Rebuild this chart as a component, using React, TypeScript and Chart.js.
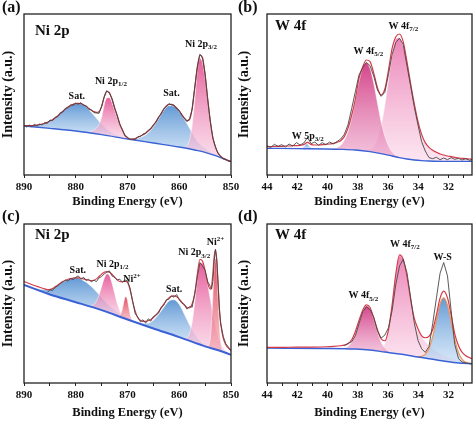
import React, { useEffect, useRef } from 'react';
import { Chart, registerables } from 'chart.js';

Chart.register(...registerables);

const FONT = '"Liberation Serif", "Times New Roman", serif';

type Pair = [number, number];

// ---------------- Panel (a) : Ni 2p ----------------
const aEnergy = [
  890, 889.5, 889, 888.5, 888, 887.5, 887, 886.5, 886, 885.5,
  885, 884.5, 884, 883.5, 883, 882.5, 882, 881.5, 881, 880.5,
  880, 879.5, 879, 878.5, 878, 877.5, 877, 876.5, 876, 875.5,
  875, 874.5, 874, 873.5, 873, 872.5, 872, 871.5, 871, 870.5,
  870, 869.5, 869, 868.5, 868, 867.5, 867, 866.5, 866, 865.5,
  865, 864.5, 864, 863.5, 863, 862.5, 862, 861.5, 861, 860.5,
  860, 859.5, 859, 858.5, 858, 857.5, 857, 856.5, 856, 855.5,
  855, 854.5, 854, 853.5, 853, 852.5, 852, 851.5, 851, 850.5,
  850,
];
const aRaw = [
  150, 144, 150, 145, 152, 147, 153, 150, 157, 155,
  165, 163, 173, 175, 187, 189, 200, 202, 211, 209,
  216, 212, 217, 209, 208, 197, 196, 187, 186, 185,
  207, 233, 253, 245, 230, 200, 180, 151, 137, 117,
  113, 106, 109, 106, 115, 115, 123, 124, 134, 138,
  151, 158, 174, 183, 199, 205, 214, 210, 210, 199,
  194, 179, 171, 160, 169, 198, 264, 323, 362, 350,
  302, 226, 162, 110, 85, 64, 57, 48, 47, 41,
  41,
];
const aFit = [
  147, 148, 148, 148, 149, 150, 151, 153, 155, 158,
  162, 166, 171, 177, 184, 191, 198, 204, 208, 212,
  214, 215, 214, 211, 206, 200, 194, 190, 188, 190,
  205, 235, 251, 247, 228, 203, 178, 154, 135, 120,
  112, 108, 107, 109, 113, 117, 121, 126, 132, 140,
  149, 160, 172, 185, 197, 207, 212, 212, 208, 201,
  192, 181, 170, 163, 167, 200, 262, 325, 360, 352,
  300, 228, 160, 112, 83, 66, 56, 50, 46, 43,
  40,
];
const aBackground: Pair[] = [
  [890, 147], [885, 140], [880, 132], [875, 121], [870, 108], [865, 96],
  [860, 84], [857, 75], [855, 68], [853, 58], [851, 46], [850, 41],
];
const aSat1: Pair[] = [
  [890, 148], [889, 148], [888, 149], [887, 151], [886, 155], [885, 162], [884, 171],
  [883, 184], [882, 198], [881, 208], [880, 214], [879, 213], [878, 205], [877, 188],
  [876, 170], [875, 152], [874, 138], [873, 127], [872, 119], [871, 113], [870, 109], [869, 106],
];
const aNi2p12: Pair[] = [
  [877.5, 130], [877, 131], [876.5, 135], [876, 141], [875.5, 151], [875, 173],
  [874.5, 210], [874, 231], [873.5, 232], [873, 217], [872.5, 195], [872, 172],
  [871.5, 150], [871, 133], [870.5, 118], [870, 111], [869.5, 107],
];
const aSat2: Pair[] = [
  [870, 108], [869, 107], [868, 110], [867, 116], [866, 126], [865, 145], [864, 168],
  [863, 193], [862, 208], [861, 206], [860, 190], [859, 167], [858, 140], [857, 112],
  [856, 92], [855, 80], [854, 70], [853, 61], [852, 54], [851, 47],
];
const aNi2p32: Pair[] = [
  [860, 84], [859.5, 83], [859, 82], [858.5, 87], [858, 105], [857.5, 150], [857, 225],
  [856.5, 313], [856, 350], [855.5, 335], [855, 288], [854.5, 224], [854, 153],
  [853.5, 109], [853, 80], [852.5, 64], [852, 55], [851.5, 50], [851, 46], [850.5, 43], [850, 41],
];

// ---------------- Panel (b) : W 4f ----------------
const bEnergy = [
  44, 43.76, 43.51, 43.27, 43.03, 42.78, 42.54, 42.3, 42.05, 41.81, 41.57, 41.32,
  41.08, 40.84, 40.59, 40.35, 40.11, 39.86, 39.62, 39.38, 39.13, 38.89, 38.65, 38.4,
  38.16, 37.92, 37.67, 37.43, 37.19, 36.94, 36.7, 36.46, 36.21, 35.97, 35.73, 35.48,
  35.24, 35, 34.75, 34.51, 34.27, 34.02, 33.78, 33.54, 33.29, 33.05, 32.8, 32.56,
  32.32, 32.07, 31.83, 31.59, 31.34, 31.1, 30.86, 30.61, 30.37,
];
const bRaw = [
  88, 83, 92, 86, 91, 84, 93, 87, 97, 90, 96, 112,
  94, 99, 89, 97, 91, 99, 93, 100, 108, 122, 150, 200,
  250, 300, 322, 338, 328, 296, 255, 236, 248, 302, 362, 398,
  410, 392, 328, 268, 205, 150, 100, 72, 52, 49, 53, 46,
  51, 46, 52, 47, 50, 45, 49, 44, 47,
];
const bFit = [
  85, 85, 86, 86, 86, 87, 87, 88, 88, 89, 91, 98,
  91, 90, 90, 91, 92, 93, 95, 98, 103, 115, 140, 180,
  228, 290, 325, 345, 340, 305, 262, 240, 258, 315, 380, 415,
  423, 400, 340, 275, 215, 160, 122, 97, 83, 74, 68, 63,
  60, 57, 55, 53, 51, 50, 49, 48, 47,
];
const bBackground: Pair[] = [
  [44, 80], [42.05, 79], [40.11, 78], [39.13, 77], [38.16, 75], [37.19, 70], [36.21, 62],
  [35.73, 57], [35.24, 52], [34.75, 48], [34.27, 45], [33.78, 43], [33.29, 42], [32.32, 41], [30.37, 41],
];
const bW5p32: Pair[] = [[41.76, 80], [41.57, 85], [41.37, 93], [41.18, 85], [40.98, 80]];
const bW4f72: Pair[] = [
  [37.92, 74], [37.67, 73], [37.43, 73], [37.19, 77], [36.94, 85], [36.7, 107], [36.46, 147],
  [36.21, 209], [35.97, 286], [35.73, 360], [35.48, 408], [35.24, 412], [35, 387], [34.75, 340],
  [34.51, 280], [34.27, 215], [34.02, 164], [33.78, 120], [33.54, 97], [33.29, 83], [33.05, 74],
  [32.8, 68], [32.32, 60], [31.83, 55], [31.34, 51], [30.86, 49], [30.37, 47],
];
const bW4f52: Pair[] = [
  [39.86, 78], [39.62, 79], [39.38, 82], [39.13, 89], [38.89, 104], [38.65, 130], [38.4, 172],
  [38.16, 225], [37.92, 280], [37.67, 323], [37.43, 337], [37.19, 320], [36.94, 274], [36.7, 216],
  [36.46, 160], [36.21, 116], [35.97, 87], [35.73, 69], [35.48, 59], [35.24, 54], [35, 50],
];

// ---------------- Panel (c) : Ni 2p ----------------
const cRawEnergy = [
  885.5, 885, 884.5, 884, 883.5, 883, 882.5, 882, 881.5, 881,
  880.5, 880, 879.5, 879, 878.5, 878, 877.5, 877, 876.5, 876,
  875.5, 875, 874.5, 874, 873.5, 873, 872.5, 872, 871.5, 871,
  870.5, 870, 869.5, 869, 868.5, 868, 867.5, 867, 866.5, 866,
  865.5, 865, 864.5, 864, 863.5, 863, 862.5, 862, 861.5, 861,
  860.5, 860, 859.5, 859, 858.5, 858, 857.5, 857, 856.5, 856,
  855.5, 855, 854.5, 854, 853.75, 853.5, 853.25, 853, 852.75, 852.5,
  852.25, 852, 851.5, 851, 850.5, 850,
];
const cRaw = [
  272, 280, 278, 287, 292, 299, 303, 309, 306, 314,
  311, 318, 322, 312, 318, 308, 312, 304, 309, 305,
  316, 320, 328, 333, 337, 322, 318, 310, 312, 303,
  310, 307, 285, 245, 208, 198, 184, 190, 180, 193,
  186, 200, 204, 210, 228, 233, 250, 252, 262, 258,
  266, 250, 240, 236, 222, 230, 228, 270, 318, 362,
  352, 338, 305, 290, 282, 305, 365, 402, 372, 298,
  222, 180, 140, 118, 108, 96,
];
const cFitEnergy = [
  890, 889, 888, 887, 886,
  885.5, 885, 884.5, 884, 883.5, 883, 882.5, 882, 881.5, 881,
  880.5, 880, 879.5, 879, 878.5, 878, 877.5, 877, 876.5, 876,
  875.5, 875, 874.5, 874, 873.5, 873, 872.5, 872, 871.5, 871,
  870.5, 870, 869.5, 869, 868.5, 868, 867.5, 867, 866.5, 866,
  865.5, 865, 864.5, 864, 863.5, 863, 862.5, 862, 861.5, 861,
  860.5, 860, 859.5, 859, 858.5, 858, 857.5, 857, 856.5, 856,
  855.5, 855, 854.5, 854, 853.75, 853.5, 853.25, 853, 852.75, 852.5,
  852.25, 852, 851.5, 851, 850.5, 850,
];
const cFit = [
  305, 299, 293, 288, 283,
  281, 281, 284, 289, 294, 300, 305, 309, 312, 314,
  315, 316, 316, 315, 313, 311, 309, 308, 309, 313,
  320, 327, 333, 335, 333, 327, 318, 310, 305, 304,
  306, 302, 280, 245, 215, 196, 188, 185, 185, 187,
  191, 197, 205, 214, 225, 237, 248, 256, 261, 262,
  259, 252, 243, 234, 227, 226, 238, 268, 328, 372,
  366, 338, 300, 282, 292, 330, 380, 400, 368, 300,
  225, 180, 135, 115, 105, 98,
];
const cBackground: Pair[] = [
  [890, 295], [885, 266], [880, 243], [875, 219], [870, 191], [865, 164],
  [860, 138], [855, 110], [852, 96], [850, 85],
];
const cSat1: Pair[] = [
  [888, 286], [887, 282], [886, 281], [885, 283], [884, 289], [883, 298], [882, 307],
  [881, 315], [880, 317], [879.5, 316], [879, 312], [878, 303], [877, 290], [876, 274],
  [875, 257], [874, 240], [873, 226], [872, 214], [871, 204], [870, 195], [869, 188], [868, 181],
];
const cNi2p12: Pair[] = [
  [877, 232], [876.5, 236], [876, 246], [875.5, 264], [875, 289], [874.5, 314], [874, 328],
  [873.5, 323], [873, 300], [872.5, 270], [872, 240], [871.5, 218], [871, 204], [870.5, 196], [870, 191],
];
const cNi2PlusA: Pair[] = [
  [871.5, 203], [871.25, 209], [871, 222], [870.75, 240], [870.5, 256], [870.25, 259],
  [870, 247], [869.75, 227], [869.5, 207], [869.25, 194], [869, 188],
];
const cSat2: Pair[] = [
  [868, 181], [867, 179], [866, 180], [865, 189], [864, 206], [863, 227], [862, 246],
  [861, 250], [860, 236], [859, 206], [858, 174], [857, 146], [856, 127], [855, 114], [854, 106],
];
const cNi2p32: Pair[] = [
  [858.5, 136], [858, 149], [857.5, 183], [857, 243], [856.5, 314], [856, 361], [855.5, 359],
  [855, 335], [854.5, 296], [854, 251], [853.5, 207], [853, 169], [852.5, 139], [852, 119],
  [851.5, 105], [851, 96], [850.5, 90], [850, 85],
];
const cNi2PlusB: Pair[] = [
  [854.5, 110], [854.25, 115], [854, 135], [853.75, 183], [853.5, 261], [853.25, 341],
  [853, 376], [852.75, 339], [852.5, 256], [852.25, 176], [852, 126], [851.75, 103], [851.5, 95],
];

// ---------------- Panel (d) : W 4f ----------------
const dRawEnergy = [
  38.89, 38.65, 38.4, 38.16, 37.92, 37.67, 37.43, 37.19, 36.94, 36.7, 36.46, 36.21,
  35.97, 35.73, 35.48, 35.24, 35, 34.75, 34.51, 34.27, 34.02, 33.78, 33.54, 33.29,
  33.05, 32.8, 32.56, 32.32, 32.07, 31.83, 31.59, 31.34, 31.1, 30.86, 30.61, 30.37,
];
const dRaw = [
  112, 119, 124, 142, 178, 214, 229, 221, 197, 157, 135, 144,
  166, 218, 298, 352, 372, 332, 258, 182, 128, 103, 92, 110,
  178, 256, 330, 362, 322, 218, 116, 73, 63, 60, 58, 57,
];
const dFitEnergy = [
  44, 43.03, 42.05, 41.08, 40.11, 39.62, 39.13,
  38.89, 38.65, 38.4, 38.16, 37.92, 37.67, 37.43, 37.19, 36.94, 36.7, 36.46, 36.21,
  35.97, 35.73, 35.48, 35.24, 35, 34.75, 34.51, 34.27, 34.02, 33.78, 33.54, 33.29,
  33.05, 32.8, 32.56, 32.32, 32.07, 31.83, 31.59, 31.34, 31.1, 30.86, 30.61, 30.37,
];
const dFit = [
  107, 107, 108, 108, 109, 110, 112,
  114, 118, 130, 155, 188, 219, 235, 227, 195, 160, 133, 127,
  160, 235, 330, 385, 372, 320, 252, 195, 163, 142, 136, 140,
  160, 205, 255, 276, 256, 205, 148, 112, 92, 82, 76, 72,
];
const dBackground: Pair[] = [
  [44, 105], [40.11, 104], [38.16, 102], [37.19, 99], [36.21, 93], [35.24, 87], [34.27, 80],
  [33.29, 73], [32.32, 66], [31.34, 60], [30.37, 58],
];
const dW4f52: Pair[] = [
  [38.89, 105], [38.65, 110], [38.4, 123], [38.16, 147], [37.92, 181], [37.67, 214], [37.43, 232],
  [37.19, 223], [36.94, 191], [36.7, 154], [36.46, 123], [36.21, 105], [35.97, 96], [35.73, 91],
];
const dW4f72: Pair[] = [
  [36.7, 97], [36.46, 101], [36.21, 119], [35.97, 164], [35.73, 242], [35.48, 332], [35.24, 383],
  [35, 368], [34.75, 316], [34.51, 250], [34.27, 189], [34.02, 156], [33.78, 138], [33.54, 125],
  [33.29, 113], [33.05, 103], [32.8, 95], [32.56, 89], [32.32, 83], [31.83, 75], [31.34, 68], [30.86, 65], [30.37, 63],
];
const dWS: Pair[] = [
  [34.02, 79], [33.78, 80], [33.54, 86], [33.29, 104], [33.05, 139], [32.8, 190], [32.56, 238],
  [32.32, 256], [32.07, 234], [31.83, 184], [31.59, 130], [31.34, 91], [31.1, 71], [30.86, 62],
  [30.61, 59], [30.37, 58],
];

// ---------------- styles ----------------
const BLUE = { top: 'rgba(82,142,208,0.9)', bottom: 'rgba(190,218,244,0.62)' };
const PINK = { top: 'rgba(228,78,146,0.9)', bottom: 'rgba(248,204,226,0.62)' };
const RED = { top: 'rgba(224,58,78,0.92)', bottom: 'rgba(242,160,172,0.62)' };
const MAGENTA = { top: 'rgba(206,44,122,0.88)', bottom: 'rgba(236,160,200,0.62)' };
const LIGHTPINK = { top: 'rgba(232,106,168,0.82)', bottom: 'rgba(250,212,231,0.62)' };

type Part = { t: string; k?: 'sub' | 'sup' };
type Ann = { e: number; v: number; parts: Part[]; align?: 'left' | 'center' };
type Comp = { data: Pair[]; top: string; bottom: string; border?: string; borderWidth?: number };

const sub = (t: string): Part => ({ t, k: 'sub' });
const sup = (t: string): Part => ({ t, k: 'sup' });

const panels = [
  {
    key: 'a', left: 0, top: 0, w: 246, h: 210, padL: 24, padR: 15, axisH: 35,
    xMin: 850, xMax: 890, step: 5, labelStep: 10, hide: [] as number[], yMax: 483,
    rawE: aEnergy, raw: aRaw, fitE: aEnergy, fit: aFit, bg: aBackground, fitColor: '#b3323d', bgWidth: 1.3,
    comps: [
      { data: aSat1, ...BLUE }, { data: aNi2p12, ...PINK }, { data: aSat2, ...BLUE }, { data: aNi2p32, ...PINK },
    ] as Comp[],
    letter: '(a)', letterX: 2, letterY: 8, title: 'Ni 2p', titleDx: 11, titleDy: 17, yTitleX: 8,
    anns: [
      { e: 879.8, v: 240, parts: [{ t: 'Sat.' }], align: 'center' },
      { e: 876.3, v: 285, parts: [{ t: 'Ni 2p' }, sub('1/2')] },
      { e: 861.5, v: 247, parts: [{ t: 'Sat.' }], align: 'center' },
      { e: 858.9, v: 395, parts: [{ t: 'Ni 2p' }, sub('3/2')] },
    ] as Ann[],
  },
  {
    key: 'b', left: 237, top: 0, w: 237, h: 210, padL: 30, padR: 2, axisH: 35,
    xMin: 30.45, xMax: 44, step: 1, labelStep: 2, hide: [] as number[], yMax: 483,
    rawE: bEnergy, raw: bRaw, fitE: bEnergy, fit: bFit, bg: bBackground, fitColor: '#d63a47', bgWidth: 1.3,
    comps: [
      { data: bW5p32, ...BLUE }, { data: bW4f72, ...LIGHTPINK }, { data: bW4f52, ...MAGENTA },
    ] as Comp[],
    letter: '(b)', letterX: 1, letterY: 8, title: 'W 4f', titleDx: 8, titleDy: 12, yTitleX: 7,
    anns: [
      { e: 42.37, v: 120, parts: [{ t: 'W 5p' }, sub('3/2')] },
      { e: 38.29, v: 375, parts: [{ t: 'W 4f' }, sub('5/2')] },
      { e: 35.97, v: 450, parts: [{ t: 'W 4f' }, sub('7/2')] },
    ] as Ann[],
  },
  {
    key: 'c', left: 0, top: 210, w: 246, h: 211, padL: 24, padR: 15, axisH: 38,
    xMin: 850, xMax: 890, step: 5, labelStep: 10, hide: [] as number[], yMax: 478,
    rawE: cRawEnergy, raw: cRaw, fitE: cFitEnergy, fit: cFit, bg: cBackground, fitColor: '#d63e4b', bgWidth: 2,
    comps: [
      { data: cSat1, ...BLUE }, { data: cNi2p12, ...PINK }, { data: cNi2PlusA, ...RED },
      { data: cSat2, ...BLUE }, { data: cNi2p32, ...PINK }, { data: cNi2PlusB, ...RED },
    ] as Comp[],
    letter: '(c)', letterX: 2, letterY: 7, title: 'Ni 2p', titleDx: 11, titleDy: 11.5, yTitleX: 8,
    anns: [
      { e: 879.6, v: 340, parts: [{ t: 'Sat.' }], align: 'center' },
      { e: 876, v: 360, parts: [{ t: 'Ni 2p' }, sub('1/2')] },
      { e: 870.8, v: 313, parts: [{ t: 'Ni' }, sup('2+')] },
      { e: 861, v: 285, parts: [{ t: 'Sat.' }], align: 'center' },
      { e: 860.2, v: 395, parts: [{ t: 'Ni 2p' }, sub('3/2')] },
      { e: 854.7, v: 425, parts: [{ t: 'Ni' }, sup('2+')] },
    ] as Ann[],
  },
  {
    key: 'd', left: 237, top: 210, w: 237, h: 211, padL: 30, padR: 2, axisH: 38,
    xMin: 30.45, xMax: 44, step: 1, labelStep: 2, hide: [] as number[], yMax: 478,
    rawE: dRawEnergy, raw: dRaw, fitE: dFitEnergy, fit: dFit, bg: dBackground, fitColor: '#d63a47', bgWidth: 1.5,
    comps: [
      { data: dW4f72, ...LIGHTPINK }, { data: dW4f52, ...MAGENTA },
      { data: dWS, ...BLUE, border: 'rgb(240,150,90)', borderWidth: 1.2 },
    ] as Comp[],
    letter: '(d)', letterX: 1, letterY: 7, title: 'W 4f', titleDx: 8, titleDy: 11, yTitleX: 7,
    anns: [
      { e: 38.62, v: 265, parts: [{ t: 'W 4f' }, sub('5/2')] },
      { e: 35.87, v: 420, parts: [{ t: 'W 4f' }, sub('7/2')] },
      { e: 32.39, v: 380, parts: [{ t: 'W-S' }], align: 'center' },
    ] as Ann[],
  },
];

function drawRich(ctx: CanvasRenderingContext2D, x: number, y: number, parts: Part[], align?: string) {
  const main = 10;
  const small = 7;
  const fontOf = (k?: string) => `bold ${k ? small : main}px ${FONT}`;
  let w = 0;
  for (const p of parts) {
    ctx.font = fontOf(p.k);
    w += ctx.measureText(p.t).width;
  }
  let cx = align === 'center' ? x - w / 2 : x;
  const base = y + main * 0.35;
  ctx.textAlign = 'left';
  ctx.textBaseline = 'alphabetic';
  for (const p of parts) {
    ctx.font = fontOf(p.k);
    const dy = p.k === 'sub' ? 2.5 : p.k === 'sup' ? -4 : 0;
    ctx.fillText(p.t, cx, base + dy);
    cx += ctx.measureText(p.t).width;
  }
}

const panelPlugin = {
  id: 'panelText',
  afterDraw(chart: any, _args: any, opts: any) {
    const { ctx, chartArea: a, scales } = chart;
    ctx.save();
    ctx.strokeStyle = '#222';
    ctx.lineWidth = 1.3;
    ctx.strokeRect(a.left, a.top, a.right - a.left, a.bottom - a.top);
    ctx.fillStyle = '#111';
    ctx.textAlign = 'left';
    ctx.textBaseline = 'middle';
    ctx.font = `bold 16px ${FONT}`;
    ctx.fillText(opts.letter, opts.letterX, opts.letterY);
    ctx.font = `bold 15px ${FONT}`;
    ctx.fillText(opts.title, a.left + opts.titleDx, a.top + opts.titleDy);
    ctx.save();
    ctx.translate(opts.yTitleX, (a.top + a.bottom) / 2);
    ctx.rotate(-Math.PI / 2);
    ctx.textAlign = 'center';
    ctx.textBaseline = 'middle';
    ctx.font = `bold 14px ${FONT}`;
    ctx.fillText('Intensity (a.u.)', 0, 0);
    ctx.restore();
    for (const an of opts.anns as Ann[]) {
      const px = scales.x.getPixelForValue(an.e);
      const py = scales.y.getPixelForValue(an.v);
      drawRich(ctx, px, py, an.parts, an.align);
    }
    ctx.restore();
  },
};

const gradient = (top: string, bottom: string) => (c: any) => {
  const chart = c.chart;
  const ys = chart.scales && chart.scales.y;
  if (!chart.chartArea || !ys || !c.dataset) return top;
  const vals = c.dataset.data.map((p: any) => p.y);
  const yTop = ys.getPixelForValue(Math.max(...vals));
  const yBot = ys.getPixelForValue(Math.min(...vals));
  const g = chart.ctx.createLinearGradient(0, yTop, 0, Math.max(yBot, yTop + 1));
  g.addColorStop(0, top);
  g.addColorStop(1, bottom);
  return g;
};

function Panel({ cfg }: { cfg: (typeof panels)[number] }) {
  const ref = useRef<HTMLCanvasElement>(null);
  useEffect(() => {
    const canvas = ref.current;
    if (!canvas) return;
    const pairs = (p: Pair[]) => p.map(([x, y]) => ({ x, y }));
    const datasets: any[] = [
      {
        data: cfg.rawE.map((x, i) => ({ x, y: cfg.raw[i] })),
        borderColor: '#474747', borderWidth: 0.9, tension: 0, fill: false, order: 0,
      },
      {
        data: cfg.fitE.map((x, i) => ({ x, y: cfg.fit[i] })),
        borderColor: cfg.fitColor, borderWidth: 1.2, cubicInterpolationMode: 'monotone', fill: false, order: 1,
      },
      {
        data: pairs(cfg.bg),
        borderColor: '#3a62d6', borderWidth: cfg.bgWidth, cubicInterpolationMode: 'monotone', fill: false, order: 2,
      },
      ...cfg.comps.map((c, i) => ({
        data: pairs(c.data),
        borderColor: c.border ?? 'rgba(255,245,250,0.75)',
        borderWidth: c.borderWidth ?? 0.7,
        backgroundColor: gradient(c.top, c.bottom),
        fill: 2,
        cubicInterpolationMode: 'monotone',
        order: 100 - i,
      })),
    ];
    const chart = new Chart(canvas, {
      type: 'line',
      data: { datasets },
      plugins: [panelPlugin as any],
      options: {
        responsive: false,
        animation: false,
        events: [],
        layout: { padding: { left: cfg.padL, top: 14, right: cfg.padR, bottom: 0 } },
        elements: { point: { radius: 0, hitRadius: 0 } },
        plugins: {
          legend: { display: false },
          tooltip: { enabled: false },
          panelText: {
            letter: cfg.letter, letterX: cfg.letterX, letterY: cfg.letterY,
            title: cfg.title, titleDx: cfg.titleDx, titleDy: cfg.titleDy,
            yTitleX: cfg.yTitleX, anns: cfg.anns,
          },
        } as any,
        scales: {
          x: {
            type: 'linear',
            reverse: true,
            min: cfg.xMin,
            max: cfg.xMax,
            afterFit: (s: any) => { s.height = cfg.axisH; },
            grid: { display: true, drawOnChartArea: false, drawTicks: true, tickLength: 3, color: '#222', tickColor: '#222', tickWidth: 1 },
            border: { display: false },
            ticks: {
              stepSize: cfg.step,
              autoSkip: false,
              includeBounds: false,
              maxRotation: 0,
              minRotation: 0,
              padding: 3,
              color: '#111',
              font: { family: FONT, size: 11, weight: 'bold' },
              callback: (value: any) => {
                const v = Number(value);
                const r = v / cfg.labelStep;
                if (Math.abs(r - Math.round(r)) > 1e-6) return '';
                if (cfg.hide.includes(v)) return '';
                return String(v);
              },
            },
            title: {
              display: true,
              text: 'Binding Energy (eV)',
              color: '#111',
              font: { family: FONT, size: 12.5, weight: 'bold' },
              padding: { top: 0, bottom: 1 },
            },
          } as any,
          y: { type: 'linear', display: false, min: 0, max: cfg.yMax },
        },
      },
    });
    return () => chart.destroy();
  }, []);
  return (
    <canvas
      ref={ref}
      width={cfg.w}
      height={cfg.h}
      style={{ position: 'absolute', left: cfg.left, top: cfg.top, width: cfg.w, height: cfg.h }}
    />
  );
}

export default function App() {
  return (
    <div style={{ position: 'fixed', left: 0, top: 0, width: 474, height: 421, background: '#fff', overflow: 'hidden' }}>
      {panels.map((p) => (
        <Panel key={p.key} cfg={p} />
      ))}
    </div>
  );
}
